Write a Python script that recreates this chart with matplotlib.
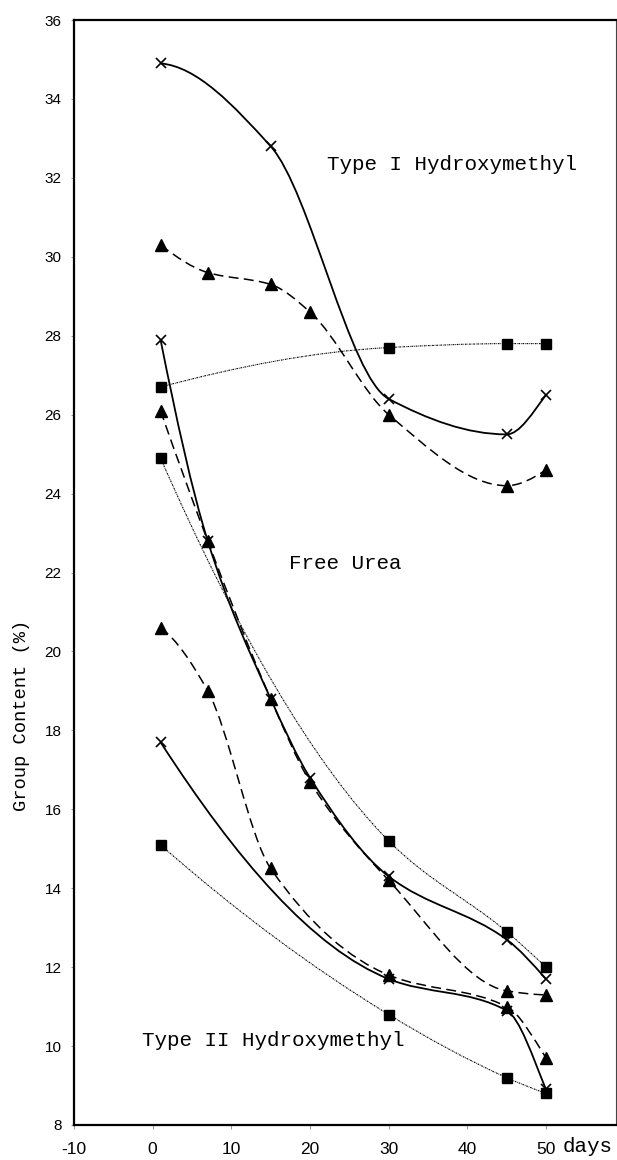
import numpy as np
import matplotlib
matplotlib.use("Agg")
import matplotlib.pyplot as plt
from matplotlib.path import Path
from matplotlib.patches import PathPatch

plt.rcParams["axes.unicode_minus"] = False

# sampling days and group contents (%) for each fraction
days_x1 = [1, 15, 30, 45, 50]
type1_x = [34.9, 32.8, 26.4, 25.5, 26.5]
days_t1 = [1, 7, 15, 20, 30, 45, 50]
type1_tri = [30.3, 29.6, 29.3, 28.6, 26.0, 24.2, 24.6]
days_s1 = [1, 30, 45, 50]
type1_sq = [26.7, 27.7, 27.8, 27.8]

days_xu = [1, 7, 15, 20, 30, 45, 50]
urea_x = [27.9, 22.8, 18.8, 16.8, 14.3, 12.7, 11.7]
days_tu = [1, 7, 15, 20, 30, 45, 50]
urea_tri = [26.1, 22.8, 18.8, 16.7, 14.2, 11.4, 11.3]
days_su = [1, 30, 45, 50]
urea_sq = [24.9, 15.2, 12.9, 12.0]

days_x2 = [1, 30, 45, 50]
type2_x = [17.7, 11.7, 10.9, 8.9]
days_t2 = [1, 7, 15, 30, 45, 50]
type2_tri = [20.6, 19.0, 14.5, 11.8, 11.0, 9.7]
days_s2 = [1, 30, 45, 50]
type2_sq = [15.1, 10.8, 9.2, 8.8]

xticks = [-10, 0, 10, 20, 30, 40, 50]
yticks = list(range(8, 37, 2))


def slopes(x, y):
    # monotone (pchip style) tangents at each point
    x = np.asarray(x, float)
    y = np.asarray(y, float)
    h = np.diff(x)
    dl = np.diff(y) / h
    n = len(x)
    d = np.zeros(n)
    if n == 2:
        return np.array([dl[0], dl[0]])
    for k in range(1, n - 1):
        if dl[k - 1] * dl[k] > 0:
            w1 = 2 * h[k] + h[k - 1]
            w2 = h[k] + 2 * h[k - 1]
            d[k] = (w1 + w2) / (w1 / dl[k - 1] + w2 / dl[k])

    def end(h0, h1, d0, d1):
        e = ((2 * h0 + h1) * d0 - h0 * d1) / (h0 + h1)
        if np.sign(e) != np.sign(d0):
            e = 0.0
        elif np.sign(d0) != np.sign(d1) and abs(e) > abs(3 * d0):
            e = 3 * d0
        return e

    d[0] = end(h[0], h[1], dl[0], dl[1])
    d[-1] = end(h[-1], h[-2], dl[-1], dl[-2])
    return d


def smooth_path(xs, ys):
    # hermite segments written as cubic bezier curves
    d = slopes(xs, ys)
    verts = [(xs[0], ys[0])]
    codes = [Path.MOVETO]
    for i in range(len(xs) - 1):
        h = xs[i + 1] - xs[i]
        verts += [(xs[i] + h / 3, ys[i] + d[i] * h / 3),
                  (xs[i + 1] - h / 3, ys[i + 1] - d[i + 1] * h / 3),
                  (xs[i + 1], ys[i + 1])]
        codes += [Path.CURVE4] * 3
    return Path(verts, codes)


solid = dict(lw=1.3, linestyle="-")
dashed = dict(lw=1.1, linestyle=(0, (6.5, 3.5)))
dotted = dict(lw=0.8, linestyle=(0, (1.5, 0.8, 0.6, 0.8)))

x_mark = dict(marker="x", markersize=7.5, mew=1.2)
tri_mark = dict(marker="^", markersize=8.5)
sq_mark = dict(marker="s", markersize=7.2)

fig = plt.figure(figsize=(6.17, 11.6), dpi=100)
ax = fig.add_axes([74 / 617, 1 - 1125 / 1160, 542 / 617, 1105 / 1160])

series = [
    (days_x1, type1_x, solid, x_mark),
    (days_xu, urea_x, solid, x_mark),
    (days_x2, type2_x, solid, x_mark),
    (days_s1, type1_sq, dotted, sq_mark),
    (days_su, urea_sq, dotted, sq_mark),
    (days_s2, type2_sq, dotted, sq_mark),
    (days_t1, type1_tri, dashed, tri_mark),
    (days_tu, urea_tri, dashed, tri_mark),
    (days_t2, type2_tri, dashed, tri_mark),
]

for xs, ys, ls, mk in series:
    ax.add_patch(PathPatch(smooth_path(xs, ys), fill=False, color="black", **ls))
    ax.plot(xs, ys, linestyle="none", color="black", **mk)

ax.set_xlim(-10, 58.9)
ax.set_ylim(8, 36)
ax.set_xticks(xticks)
ax.set_yticks(yticks)

for s in ["left", "bottom", "top"]:
    ax.spines[s].set_linewidth(1.6)
ax.spines["right"].set_linewidth(0.8)
ax.spines["right"].set_color("#444444")

ax.tick_params(axis="x", length=3, width=0.6, color="#888888", pad=9,
               labelsize=12.5, labelfontfamily="Liberation Sans")
ax.tick_params(axis="y", length=2, width=0.6, color="#888888", pad=7,
               labelsize=11, labelfontfamily="Liberation Sans")

mono = "Liberation Mono"
ax.text(22.2, 32.35, "Type I Hydroxymethyl", family=mono, fontsize=15,
        va="center", ha="left")
ax.text(17.3, 22.24, "Free Urea", family=mono, fontsize=15,
        va="center", ha="left")
ax.text(-1.4, 10.15, "Type II Hydroxymethyl", family=mono, fontsize=15,
        va="center", ha="left")

fig.text(22 / 617, 1 - 715 / 1160, "Group Content (%)", family=mono,
         fontsize=13.5, rotation=90, ha="center", va="center")
fig.text(588 / 617, 1 - 1147 / 1160, "days", family=mono, fontsize=15,
         ha="center", va="center")

fig.savefig("out.png", dpi=100)
